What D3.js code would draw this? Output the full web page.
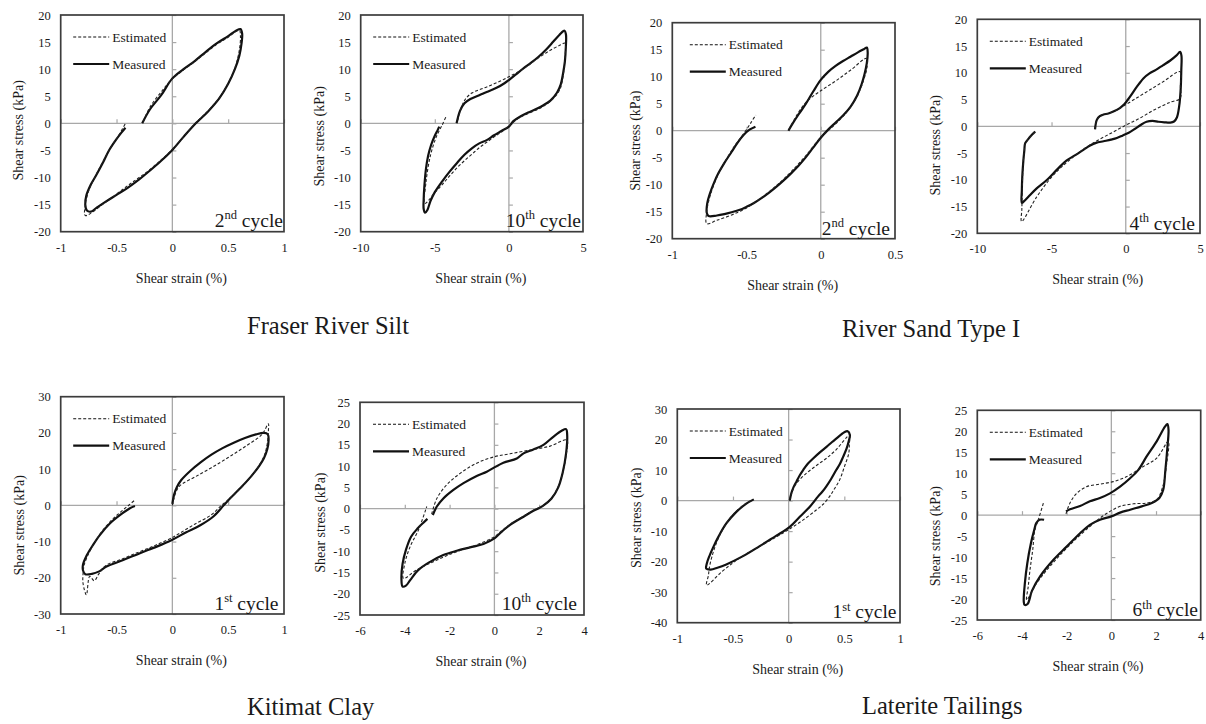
<!DOCTYPE html>
<html><head><meta charset="utf-8">
<script src="https://cdn.jsdelivr.net/npm/d3@7"></script>
<style>
body{margin:0;background:#fff;}
svg text{font-family:"Liberation Serif","Times New Roman",serif;fill:#1a1a1a;}
</style></head><body>
<svg id="chart" width="1206" height="724"></svg>
<script>
// ---------- text ----------
const groupTitles = ["Fraser River Silt", "River Sand Type I", "Kitimat Clay", "Laterite Tailings"];
const legendLabels = ["Estimated", "Measured"];
const xAxisTitle = "Shear strain (%)";
const yAxisTitle = "Shear stress (kPa)";
const cycleLabels = [["2","nd"],["10","th"],["2","nd"],["4","th"],["1","st"],["10","th"],["1","st"],["6","th"]];

// ---------- tick values ----------
const xTicksUnit = [-1, -0.5, 0, 0.5, 1];
const xTicksTen = [-10, -5, 0, 5];
const xTicksHalf = [-1, -0.5, 0, 0.5];
const xTicksSix = [-6, -4, -2, 0, 2, 4];
const yTicks20 = [-20, -15, -10, -5, 0, 5, 10, 15, 20];
const yTicks30 = [-30, -20, -10, 0, 10, 20, 30];
const yTicks25 = [-25, -20, -15, -10, -5, 0, 5, 10, 15, 20, 25];
const yTicks40 = [-40, -30, -20, -10, 0, 10, 20, 30];

// ---------- series: [shear strain %, shear stress kPa] ----------
const fraser2Meas = [[-0.27,0],[-0.2,2.6],[-0.1,5.2],[0,8.3],[0.1,10],[0.2,11.5],[0.3,13.2],[0.4,14.8],[0.5,16.1],[0.57,17.1],[0.61,17.4],[0.625,16.6],[0.62,14.8],[0.6,12.5],[0.56,10],[0.5,7.3],[0.42,4.6],[0.32,2.2],[0.21,0],[0.1,-2.5],[0,-4.9],[-0.1,-6.9],[-0.2,-8.7],[-0.3,-10.4],[-0.4,-11.9],[-0.5,-13.2],[-0.6,-14.5],[-0.68,-15.6],[-0.73,-16.3],[-0.765,-16.1],[-0.78,-15],[-0.77,-13.3],[-0.73,-11.3],[-0.68,-9.5],[-0.62,-7.2],[-0.57,-5.1],[-0.51,-3.2],[-0.46,-1.8],[-0.42,-0.8]];
const fraser2Est = [[-0.26,0.4],[-0.2,3.0],[-0.1,5.8],[0,8.2],[0.2,11.4],[0.4,14.6],[0.5,15.9],[0.6,17.2],[0.61,16],[0.6,13.5],[0.56,10.2],[0.5,7.4],[0.42,4.7],[0.32,2.3],[0.21,0.1],[0,-4.8],[-0.2,-8.5],[-0.4,-11.5],[-0.6,-14.6],[-0.78,-17.0],[-0.78,-15.2],[-0.75,-12.5],[-0.69,-9.8],[-0.62,-7],[-0.55,-4.4],[-0.48,-2.2],[-0.42,0]];

const fraser10Meas = [[-3.53,0],[-3.3,2.3],[-3.0,3.7],[-2.6,4.5],[-2.0,5.2],[-1.5,5.8],[-0.8,6.6],[-0.3,7.4],[0,8],[0.5,9.1],[1.0,10.2],[1.5,11.2],[2.0,12.3],[2.5,13.6],[3.0,15.1],[3.4,16.3],[3.75,17.1],[3.85,16.4],[3.84,14],[3.78,11.5],[3.66,9.3],[3.5,7.2],[3.25,5.7],[2.8,4.2],[2.3,3.3],[1.8,2.6],[1.3,2],[0.8,1.3],[0.3,0.4],[0,-0.6],[-0.5,-1.4],[-1.0,-2.2],[-1.5,-3.1],[-2.0,-3.7],[-2.5,-4.6],[-3.0,-5.8],[-3.5,-7.3],[-4.0,-8.9],[-4.5,-10.7],[-5.0,-12.7],[-5.3,-14.4],[-5.5,-16],[-5.65,-16.5],[-5.75,-15.8],[-5.75,-14],[-5.7,-11.5],[-5.6,-8.5],[-5.45,-6],[-5.25,-4],[-5.0,-2.3],[-4.8,-1.2],[-4.7,-0.6]];
const fraser10Est = [[-3.45,0.6],[-3.2,3.0],[-2.9,4.6],[-2.5,5.6],[-2.0,6.2],[-1.5,6.7],[-1.0,7.3],[-0.5,7.9],[0,8.6],[0.5,9.3],[1.0,10.1],[1.5,11.1],[2.0,12.1],[2.5,13.0],[3.0,13.8],[3.5,14.5],[3.78,14.8],[3.8,12.5],[3.72,10],[3.6,7.8],[3.45,6.3],[3.2,5.2],[2.8,4.1],[2.3,3.1],[1.8,2.4],[1.3,1.8],[0.8,1.2],[0.3,0.2],[0,-0.5],[-0.5,-1.6],[-1.0,-2.5],[-1.5,-3.5],[-2.0,-4.5],[-2.5,-5.7],[-3.0,-6.9],[-3.5,-8.2],[-4.0,-9.7],[-4.5,-11.3],[-5.0,-12.8],[-5.67,-14.8],[-5.6,-11],[-5.3,-6],[-4.9,-2.5],[-4.5,-0.3],[-4.25,1.2]];

const rs2Meas = [[-0.218,0],[-0.19,1.3],[-0.15,3.0],[-0.1,5.0],[-0.05,7.3],[0,9.4],[0.05,10.9],[0.1,12.0],[0.15,12.9],[0.2,13.7],[0.25,14.5],[0.29,15.1],[0.31,15.4],[0.316,14.5],[0.31,12.5],[0.295,10.5],[0.275,8.6],[0.245,6.5],[0.2,4.4],[0.15,2.8],[0.1,1.5],[0.05,0.2],[0,-1.3],[-0.05,-3.1],[-0.1,-4.9],[-0.15,-6.5],[-0.2,-7.9],[-0.25,-9.2],[-0.3,-10.4],[-0.35,-11.5],[-0.4,-12.5],[-0.45,-13.4],[-0.5,-14.1],[-0.55,-14.7],[-0.6,-15.1],[-0.65,-15.45],[-0.7,-15.7],[-0.755,-15.8],[-0.768,-15.2],[-0.765,-13.5],[-0.745,-11.5],[-0.72,-9.7],[-0.69,-7.9],[-0.65,-6.0],[-0.6,-3.9],[-0.56,-2.2],[-0.52,-0.8],[-0.48,0.2],[-0.44,0.75]];
const rs2Est = [[-0.215,0.2],[-0.18,2.0],[-0.13,4.2],[-0.083,5.7],[0,7.4],[0.1,9.2],[0.2,11.2],[0.31,13.4],[0.31,11.5],[0.29,9.5],[0.265,7.6],[0.23,5.6],[0.18,3.6],[0.12,1.8],[0.05,0],[0,-1.2],[-0.1,-4.6],[-0.2,-7.6],[-0.3,-10.2],[-0.4,-12.4],[-0.5,-14.3],[-0.6,-15.6],[-0.7,-16.6],[-0.768,-17.2],[-0.768,-15],[-0.75,-12.5],[-0.72,-10],[-0.68,-7.5],[-0.63,-5],[-0.58,-2.8],[-0.52,-0.6],[-0.47,1.5],[-0.438,2.9]];

const rs4Meas = [[-2.07,-0.56],[-1.95,1.2],[-1.75,1.9],[-1.5,2.2],[-1.17,2.4],[-0.8,2.8],[-0.4,3.4],[-0.1,4.1],[0.3,5.6],[0.75,7.4],[1.2,9.0],[1.6,9.9],[2.0,10.5],[2.5,11.4],[3.0,12.3],[3.4,13.2],[3.66,13.9],[3.75,13.2],[3.74,10.5],[3.7,7],[3.6,3.8],[3.45,1.7],[3.25,0.9],[3.0,0.7],[2.6,0.75],[2.2,0.85],[1.8,1.0],[1.4,0.85],[1.0,0.25],[0.6,-0.5],[0.2,-1.2],[-0.2,-1.7],[-0.6,-2.2],[-1.0,-2.5],[-1.5,-2.8],[-2.0,-3.1],[-2.4,-3.6],[-2.85,-4.4],[-3.4,-5.4],[-4.0,-6.4],[-4.6,-8.0],[-5.3,-10.0],[-6.0,-11.6],[-6.5,-13.0],[-6.85,-14.0],[-7.0,-14.3],[-7.0,-12],[-6.97,-9.4],[-6.9,-6.5],[-6.83,-4.5],[-6.78,-3.2],[-6.6,-2.5],[-6.4,-1.8],[-6.1,-1.0]];
const rs4Est = [[-2.07,-0.5],[-1.95,1.2],[-1.6,2.1],[-1.2,2.4],[-0.7,2.9],[-0.2,3.7],[0.5,4.9],[1.5,6.6],[2.5,8.3],[3.66,10.2],[3.68,7.5],[3.66,5.2],[3.0,4.5],[2.0,3.2],[1.0,1.6],[0,0.2],[-1.0,-1.3],[-2.0,-2.8],[-3.0,-4.6],[-4.0,-6.8],[-5.0,-9.5],[-6.0,-13.2],[-7.02,-17.8],[-7.0,-15.5],[-6.97,-12],[-6.95,-9.4],[-6.9,-6.5],[-6.83,-4.5],[-6.78,-3.2],[-6.6,-2.5],[-6.4,-1.8],[-6.1,-1.0]];

const kit1Meas = [[0,0.4],[0.015,2.9],[0.04,5],[0.08,7],[0.16,9.5],[0.25,11.8],[0.35,14],[0.45,15.8],[0.55,17.3],[0.65,18.6],[0.75,19.6],[0.82,20],[0.855,19.6],[0.862,18],[0.85,15.5],[0.82,13],[0.78,11],[0.7,7.8],[0.6,4.5],[0.52,2],[0.46,0],[0.37,-3],[0.25,-5.5],[0.12,-7.5],[0,-9.5],[-0.14,-11.4],[-0.29,-13.2],[-0.44,-15.1],[-0.59,-16.9],[-0.66,-18.3],[-0.72,-18.9],[-0.78,-19],[-0.8,-18],[-0.8,-16.3],[-0.77,-14],[-0.71,-10.9],[-0.65,-8.2],[-0.56,-5],[-0.47,-2.7],[-0.38,-0.8],[-0.335,-0.2]];
const kit1Est = [[0,0],[0.03,3.5],[0.07,5.5],[0.2,7.8],[0.35,10.4],[0.5,13.2],[0.65,16.2],[0.8,19.5],[0.86,22.5],[0.86,20.5],[0.85,17],[0.82,13.5],[0.76,10.2],[0.68,7],[0.58,3.8],[0.5,1.5],[0.44,0],[0.35,-2.6],[0.2,-5.2],[0.05,-8],[0,-8.9],[-0.15,-11],[-0.3,-12.9],[-0.45,-14.8],[-0.6,-16.7],[-0.66,-19],[-0.7,-20.8],[-0.74,-19.6],[-0.77,-24.7],[-0.8,-21.5],[-0.8,-19],[-0.79,-16.5],[-0.76,-14],[-0.71,-11],[-0.65,-8],[-0.56,-4.6],[-0.47,-2],[-0.4,-0.2],[-0.334,1.5]];

const kit10Meas = [[-2.75,-1.5],[-2.57,0.5],[-2.28,2.4],[-1.83,4.4],[-1.38,6],[-0.79,7.7],[-0.34,8.7],[0,9.7],[0.4,10.8],[1.0,11.8],[1.3,13],[1.74,13.9],[2.19,15],[2.63,16.9],[3.0,18.3],[3.2,18.7],[3.25,17.2],[3.2,13],[3.05,8.5],[2.85,5],[2.55,2.4],[2.15,0.6],[1.74,-0.5],[1.3,-1.9],[0.7,-3.8],[0.33,-5.4],[0,-7],[-0.49,-8.3],[-1.09,-9.1],[-1.68,-9.9],[-2.28,-10.9],[-2.87,-12.5],[-3.39,-14.4],[-3.76,-16.8],[-3.95,-18.1],[-4.1,-18.3],[-4.15,-16.5],[-4.1,-13],[-3.95,-9.7],[-3.72,-6.6],[-3.42,-4.6],[-3.17,-3.3],[-2.99,-2.4]];
const kit10Est = [[-2.8,-1.3],[-2.57,2.4],[-2.13,5.6],[-1.53,8.3],[-0.79,10.7],[0,12.2],[0.7,12.9],[1.6,13.8],[2.49,14.7],[3.23,16.1],[3.2,12.5],[3.05,8.5],[2.85,5.2],[2.6,2.8],[2.2,0.8],[1.74,-0.4],[1.3,-1.8],[0.7,-3.7],[0.33,-5.2],[0,-6.6],[-0.79,-8.5],[-1.68,-10.1],[-2.57,-12.1],[-3.47,-14.4],[-4.06,-16.4],[-4.0,-12.9],[-3.76,-8.9],[-3.39,-5],[-3.02,0.5]];

const lat1Meas = [[0.01,0],[0.024,2.4],[0.045,4.5],[0.07,6.2],[0.1,8.3],[0.13,10],[0.17,12],[0.22,13.8],[0.28,15.8],[0.34,17.6],[0.39,19.2],[0.43,20.4],[0.47,21.6],[0.5,22.4],[0.53,22.7],[0.55,21.5],[0.54,19.5],[0.52,17],[0.49,14.4],[0.46,12],[0.427,10],[0.38,7],[0.337,4.6],[0.3,2.8],[0.263,1.3],[0.19,-2],[0.1,-5.3],[0.01,-8.6],[-0.11,-11.5],[-0.26,-14.9],[-0.41,-18.2],[-0.56,-20.9],[-0.64,-22],[-0.7,-22.6],[-0.74,-22.3],[-0.735,-20.6],[-0.71,-18],[-0.68,-15.5],[-0.63,-11.8],[-0.56,-7.5],[-0.47,-3.7],[-0.38,-1.0],[-0.313,0.4]];
const lat1Est = [[0.01,0],[0.03,2.8],[0.069,5.6],[0.158,8.9],[0.25,11.5],[0.337,13.8],[0.43,16.8],[0.546,21.4],[0.545,18.5],[0.54,15.5],[0.5,11],[0.457,6.7],[0.41,3.8],[0.367,1.3],[0.31,-1.2],[0.248,-3.1],[0.128,-6.4],[0,-9.5],[-0.11,-11.9],[-0.26,-15.0],[-0.41,-18.1],[-0.5,-20.4],[-0.6,-23.3],[-0.737,-27.7],[-0.72,-24.4],[-0.713,-22.2],[-0.69,-18.5],[-0.65,-14],[-0.6,-10],[-0.53,-6],[-0.45,-2.8],[-0.38,-0.9],[-0.32,0.3]];

const lat6Meas = [[-2.03,0.9],[-1.85,1.4],[-1.4,2.2],[-0.96,3.3],[-0.51,4.1],[-0.06,5.2],[0.39,6.8],[0.84,8.8],[1.21,10.8],[1.58,14],[2.03,17.6],[2.4,21.1],[2.51,21.7],[2.56,20.3],[2.5,15.6],[2.42,10.8],[2.32,6],[2.15,4.1],[1.81,2.9],[1.36,2.1],[0.84,1.3],[0.39,0.6],[0,-0.3],[-0.51,-1.1],[-0.96,-2.3],[-1.4,-4.3],[-2.0,-7.5],[-2.6,-10.7],[-3.19,-14.6],[-3.55,-18],[-3.75,-21.2],[-3.88,-21.4],[-3.92,-20.6],[-3.87,-16.2],[-3.76,-11.4],[-3.6,-6.7],[-3.45,-3.5],[-3.36,-1.9],[-3.22,-1.1],[-3.01,-1.1]];
const lat6Est = [[-2.03,0.3],[-1.85,2.9],[-1.55,5.2],[-1.1,6.8],[-0.51,7.4],[0.09,8],[0.69,9.2],[1.43,11.6],[2.03,13.6],[2.55,17.6],[2.48,12.4],[2.3,6.8],[2.03,3.7],[1.58,2.9],[0.99,2.7],[0.39,2.1],[-0.06,0.9],[-0.51,-0.7],[-0.96,-2.7],[-1.55,-5.5],[-2.15,-8.7],[-2.75,-12.2],[-3.34,-16.2],[-3.79,-20.2],[-3.72,-17],[-3.64,-13],[-3.52,-8.3],[-3.42,-3.5],[-3.27,-1.1],[-3.04,2.9]];

// ---------- layout (positions only) ----------
const panels = [
  {meas: fraser2Meas, est: fraser2Est, xd:[-1,1], yd:[-20,20], xt:xTicksUnit, yt:yTicks20, box:[60.7,15,223.3,216.7], yl:[-42,7], lg:12.5, cyc:[1,5]},
  {meas: fraser10Meas, est: fraser10Est, xd:[-10,5], yd:[-20,20], xt:xTicksTen, yt:yTicks20, box:[360.7,15,222.3,216.7], yl:[-41,13], lg:12.5, cyc:[2,5]},
  {meas: rs2Meas, est: rs2Est, xd:[-1,0.5], yd:[-20,20], xt:xTicksHalf, yt:yTicks20, box:[672.3,22.7,222.7,216], yl:[-37,10], lg:17.5, cyc:[5,4]},
  {meas: rs4Meas, est: rs4Est, xd:[-10,5], yd:[-20,20], xt:xTicksTen, yt:yTicks20, box:[977.3,19.3,222.7,214], yl:[-42,19], lg:12.5, cyc:[5,3.5]},
  {meas: kit1Meas, est: kit1Est, xd:[-1,1], yd:[-30,30], xt:xTicksUnit, yt:yTicks30, box:[60.7,396.7,223.3,217.3], yl:[-41,20], lg:12.5, cyc:[5.5,4]},
  {meas: kit10Meas, est: kit10Est, xd:[-6,4], yd:[-25,25], xt:xTicksSix, yt:yTicks25, box:[360,402.3,224,212.7], yl:[-40,14], lg:13, cyc:[7,5]},
  {meas: lat1Meas, est: lat1Est, xd:[-1,1], yd:[-40,30], xt:xTicksUnit, yt:yTicks40, box:[677.3,409,222.7,213.7], yl:[-41,2], lg:12.5, cyc:[3.5,4.5]},
  {meas: lat6Meas, est: lat6Est, xd:[-6,4], yd:[-25,25], xt:xTicksSix, yt:yTicks25, box:[977.3,410.3,223.4,209.7], yl:[-42,21], lg:12.5, cyc:[2.7,3.5]}
];
const titlePos = [[247,334],[842,337],[247,715],[862,714]];

const svg = d3.select("#chart");
const fmt = d => String(d);
const lineGen = (x, y) => d3.line().x(d => x(d[0])).y(d => y(d[1])).curve(d3.curveCatmullRom.alpha(0.5));

panels.forEach((p, i) => {
  const [L, T, W, H] = p.box;
  const g = svg.append("g").attr("transform", `translate(${L},${T})`);
  const x = d3.scaleLinear().domain(p.xd).range([0, W]);
  const y = d3.scaleLinear().domain(p.yd).range([H, 0]);

  // zero lines
  g.append("line").attr("x1", x(0)).attr("x2", x(0)).attr("y1", 0).attr("y2", H)
    .attr("stroke", "#a8a8a8").attr("stroke-width", 1.3);
  g.append("line").attr("x1", 0).attr("x2", W).attr("y1", y(0)).attr("y2", y(0))
    .attr("stroke", "#a8a8a8").attr("stroke-width", 1.3);
  // tick marks on zero axes
  const ya = g.append("g").attr("transform", `translate(${x(0)},0)`)
    .call(d3.axisRight(y).tickValues(p.yt).tickSize(4).tickFormat(""));
  const xa = g.append("g").attr("transform", `translate(0,${y(0)})`)
    .call(d3.axisTop(x).tickValues(p.xt).tickSize(4).tickFormat(""));
  [ya, xa].forEach(a => { a.select(".domain").remove(); a.selectAll("line").attr("stroke", "#a8a8a8").attr("stroke-width", 1.2); });

  // curves
  const lg = lineGen(x, y);
  g.append("path").datum(p.meas).attr("d", lg).attr("fill", "none")
    .attr("stroke", "#111").attr("stroke-width", 2.2).attr("stroke-linejoin", "round");
  g.append("path").datum(p.est).attr("d", lg).attr("fill", "none")
    .attr("stroke", "#222").attr("stroke-width", 1.1).attr("stroke-dasharray", "3,2");

  // border
  g.append("rect").attr("x", 0).attr("y", 0).attr("width", W).attr("height", H)
    .attr("fill", "none").attr("stroke", "#3c3c3c").attr("stroke-width", 1.7);

  // tick labels
  const yl = g.append("g").call(d3.axisLeft(y).tickValues(p.yt).tickSize(0).tickPadding(10).tickFormat(fmt));
  const xl = g.append("g").attr("transform", `translate(0,${H})`)
    .call(d3.axisBottom(x).tickValues(p.xt).tickSize(0).tickPadding(11).tickFormat(fmt));
  [yl, xl].forEach(a => {
    a.select(".domain").remove();
    a.selectAll("text").attr("font-family", "Liberation Serif").attr("font-size", 12.5).attr("fill", "#1a1a1a");
  });

  // axis titles
  g.append("text").attr("x", W / 2 + 9).attr("y", H + 51).attr("text-anchor", "middle")
    .attr("font-size", 14).text(xAxisTitle);
  g.append("text").attr("transform", `translate(${p.yl[0]},${H / 2 + p.yl[1]}) rotate(-90)`)
    .attr("text-anchor", "middle").attr("dominant-baseline", "central")
    .attr("font-size", 14).text(yAxisTitle);

  // legend
  const lx = p.lg;
  [[22, "3,2", 1.1, legendLabels[0]], [49, null, 2.2, legendLabels[1]]].forEach(([ly, dash, sw, lab]) => {
    const ln = g.append("line").attr("x1", lx).attr("x2", lx + 36).attr("y1", ly).attr("y2", ly)
      .attr("stroke", "#111").attr("stroke-width", sw);
    if (dash) ln.attr("stroke-dasharray", dash);
    g.append("text").attr("x", lx + 39).attr("y", ly).attr("dominant-baseline", "central")
      .attr("font-size", 13.5).text(lab);
  });

  // cycle label
  const c = cycleLabels[i];
  const t = g.append("text").attr("x", W - p.cyc[0]).attr("y", H - p.cyc[1])
    .attr("text-anchor", "end").attr("font-size", 19.5);
  t.append("tspan").text(c[0]);
  t.append("tspan").attr("font-size", 12.5).attr("dy", -7.5).text(c[1]);
  t.append("tspan").attr("dy", 7.5).text(" cycle");
});

groupTitles.forEach((s, i) => {
  svg.append("text").attr("x", titlePos[i][0]).attr("y", titlePos[i][1])
    .attr("font-size", 24.5).text(s);
});
</script>
</body></html>
